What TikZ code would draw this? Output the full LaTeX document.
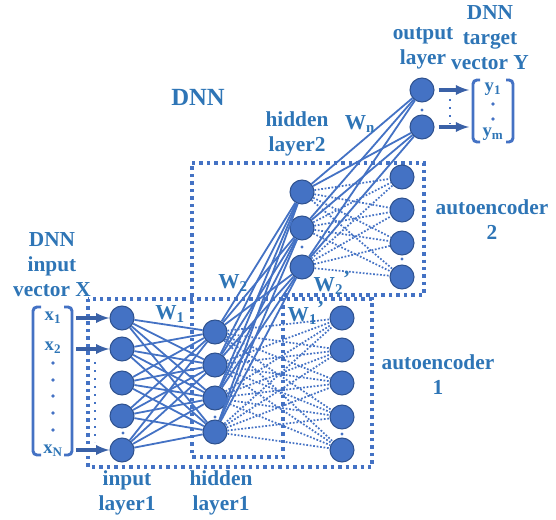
\documentclass[tikz,border=0pt]{standalone}
\usepackage{fontspec}
\setmainfont{Liberation Serif}
\usetikzlibrary{arrows}
\definecolor{nnblue}{HTML}{4472C4}
\definecolor{nnedge}{HTML}{2F528F}
\definecolor{txtblue}{HTML}{2E75B6}
\colorlet{arrblue}{nnblue!85!black}
\tikzset{
  neuron/.style={circle,draw=nnedge,fill=nnblue,line width=0.8pt,minimum size=18pt,inner sep=0pt},
  wire/.style={nnblue,line width=1.35pt},
  dotwire/.style={nnblue,line width=1.3pt,dash pattern=on 1.3pt off 1.3pt},
  gapdots/.style={nnblue,line width=1.8pt,dash pattern=on 1.6pt off 4.4pt},
  aebox/.style={nnblue,line width=2.6pt,dash pattern=on 2.6pt off 3pt},
  feed/.style={arrblue,line width=2.4pt,-latex},
  brack/.style={nnblue,line width=2.2pt,rounded corners=3pt},
  lbl/.style={text=txtblue,font=\bfseries\fontsize{16}{18.7}\selectfont,align=center,inner sep=0pt},
  vlbl/.style={text=txtblue,font=\bfseries\fontsize{14}{16}\selectfont,inner sep=0pt}
}
\begin{document}
\begin{tikzpicture}[x=0.75pt,y=-0.75pt]
  \useasboundingbox (0,0) rectangle (556,520);
  % dotted frames of the two autoencoders
  \draw [aebox] (88,299) rectangle (372,467);
  \draw [aebox] (192,163) -- (424,163) -- (424,295) -- (283,295) -- (283,457) -- (192,457) -- cycle;
  % layers
  \foreach \y [count=\k] in {318,349,383,416,450} \node [neuron] (i\k) at (122,\y) {};
  \foreach \y [count=\k] in {332,365,398,432} \node [neuron] (h\k) at (215,\y) {};
  \foreach \y [count=\k] in {318,350,383,417,450} \node [neuron] (r\k) at (342,\y) {};
  \foreach \y [count=\k] in {192,228,267} \node [neuron] (g\k) at (302,\y) {};
  \foreach \y [count=\k] in {177,210,243,277} \node [neuron] (s\k) at (402,\y) {};
  \foreach \y [count=\k] in {90,127} \node [neuron] (o\k) at (422,\y) {};
  % weights
  \foreach \a in {1,...,5} \foreach \b in {1,...,4} \draw [wire] (i\a) -- (h\b);
  \foreach \a in {1,...,4} \foreach \b in {1,...,5} \draw [dotwire] (h\a) -- (r\b);
  \foreach \a in {1,...,4} \foreach \b in {1,...,3} \draw [wire] (h\a) -- (g\b);
  \foreach \a in {1,...,3} \foreach \b in {1,...,4} \draw [dotwire] (g\a) -- (s\b);
  \foreach \a in {1,...,3} \foreach \b in {1,2} \draw [wire] (g\a) -- (o\b);
  % skipped units
  \fill [nnblue] (123,433) circle (1.3pt) (215,417) circle (1.3pt) (342,434) circle (1.3pt)
                 (302,247) circle (1.3pt) (402,259) circle (1.3pt) (422,110) circle (1.3pt);
  % input vector X
  \draw [brack] (41,307) -- (33,307) -- (33,455) -- (41,455);
  \draw [brack] (64,307) -- (72,307) -- (72,455) -- (64,455);
  \node [vlbl] (x1) at (53,318) {x\textsubscript{1}};
  \node [vlbl] (x2) at (53,348) {x\textsubscript{2}};
  \node [vlbl] (xn) at (53,451) {x\textsubscript{N}};
  \foreach \y in {363,380,396,413,430} \fill [nnblue] (53,\y) circle (1.4pt);
  \foreach \k in {1,2,5} \draw [feed] ([xshift=-25pt]i\k.west) -- (i\k);
  \draw [gapdots] (95,362) -- (95,442);
  % target vector Y
  \foreach \k in {1,2} \draw [feed] ([xshift=3pt]o\k.east) -- ++(23pt,0);
  \draw [gapdots] (450,99) -- (450,124);
  \draw [brack] (480,80) -- (473,80) -- (473,142) -- (480,142);
  \draw [brack] (506,80) -- (513,80) -- (513,142) -- (506,142);
  \node [vlbl] (y1) at (493,89) {y\textsubscript{1}};
  \node [vlbl] (ym) at (493,134) {y\textsubscript{m}};
  \fill [nnblue] (493,104) circle (1.4pt) (493,119) circle (1.4pt);
  % labels
  \node [lbl,font=\bfseries\fontsize{18.5}{20}\selectfont] (dnn) at (198,97) {DNN};
  \node [lbl] (invec) at (52,265) {DNN\\input\\vector X};
  \node [lbl] (outvec) at (490,38) {DNN\\target\\vector Y};
  \node [lbl] (outlay) at (423,48) {output\\layer};
  \node [lbl] (hid2) at (297,134) {hidden\\layer2};
  \node [lbl] (inlay) at (127,493) {input\\layer1};
  \node [lbl] (hid1) at (221,493) {hidden\\layer1};
  \node [lbl] (ae2) at (492,220) {autoencoder\\2};
  \node [lbl] (ae1) at (438,375) {autoencoder\\1};
  \node [lbl] (w1) at (170,314) {W\textsubscript{1}};
  \node [lbl] (w1p) at (306,313) {W\textsubscript{1}\raisebox{0.6ex}{’}};
  \node [lbl] (w2) at (233,283) {W\textsubscript{2}};
  \node [lbl] (w2p) at (332,283) {W\textsubscript{2}\raisebox{0.6ex}{’}};
  \node [lbl] (wn) at (360,124) {W\textsubscript{n}};
\end{tikzpicture}
\end{document}
